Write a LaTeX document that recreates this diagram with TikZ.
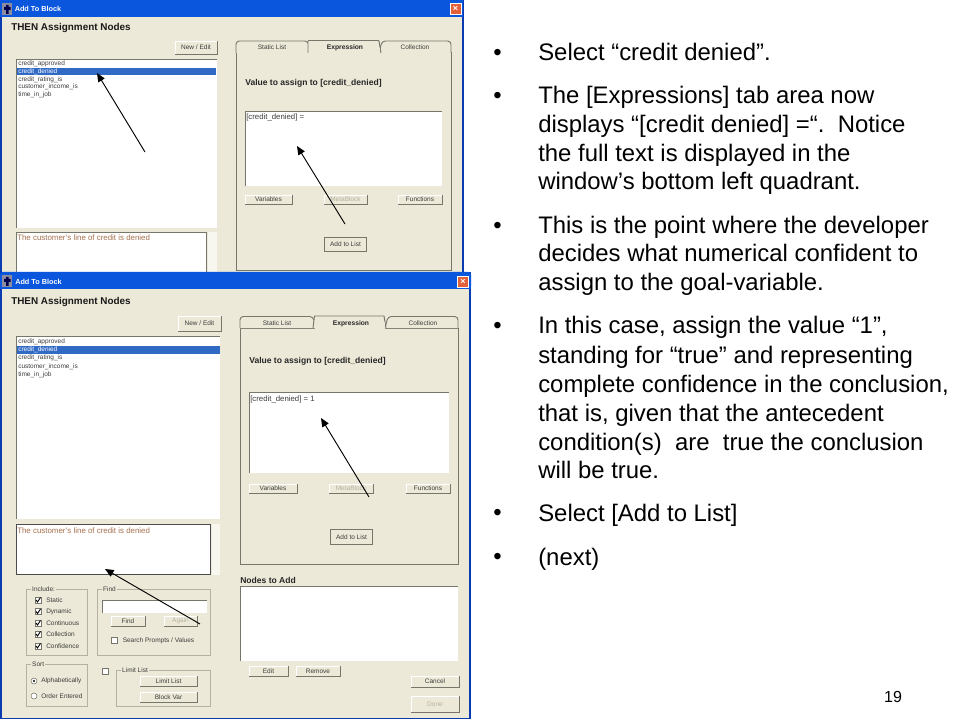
\documentclass[tikz,border=0pt]{standalone}
\usepackage{fontspec}
\setmainfont{Liberation Sans}
\usetikzlibrary{arrows.meta}
\definecolor{xpface}{HTML}{ECE9D8}
\definecolor{xpblue}{HTML}{0A56DC}
\definecolor{xpnavy}{HTML}{0B3BB0}
\definecolor{xpsel}{HTML}{316AC5}
\definecolor{xpdark}{HTML}{77766B}
\definecolor{xpgrey}{HTML}{B5B1A2}
\definecolor{xptxt}{HTML}{3C3C3A}
\definecolor{xpbrown}{HTML}{A5714F}
\definecolor{xpred}{HTML}{E2603A}
\definecolor{xpicon}{HTML}{8C8CA0}
\newcommand{\fpx}[1]{\pgfmathsetmacro\fsz{#1*0.75}\fontsize{\fsz pt}{\fsz pt}\selectfont}
% button: name x1 y1 x2 y2 text style
\newcommand{\btn}[7][xptxt]{%
  \pgfmathsetmacro\bw{(#5-#3)*0.75}\pgfmathsetmacro\bh{(#6-#4)*0.75}%
  \node[btnbox,text=#1,minimum width=\bw pt,minimum height=\bh pt] (#2) at ({(#3+#5)/2},{(#4+#6)/2}) {#7};%
  \draw[white,line width=.5pt] (#2.south west) -- (#2.north west) -- (#2.north east);%
  \draw[xpdark,line width=.6pt] (#2.south west) -- (#2.south east) -- (#2.north east);%
}
\newcommand{\fld}[5]{%
  \pgfmathsetmacro\bw{(#4-#2)*0.75}\pgfmathsetmacro\bh{(#5-#3)*0.75}%
  \node[fldbox,minimum width=\bw pt,minimum height=\bh pt] (#1) at ({(#2+#4)/2},{(#3+#5)/2}) {};%
  \draw[xpdark,line width=.6pt] (#1.south west) -- (#1.north west) -- (#1.north east);%
}
\newcommand{\grp}[6]{%
  \draw[xpgrey,line width=.5pt] (#2,#3) rectangle (#4,#5);%
  \node[grptxt] (#1) at (#2+5,#3) {#6};%
}
\newcommand{\chk}[5][1]{%
  \node[chkbox] (#2) at (#3,#4) {};%
  \ifnum#1=1 \draw[black,line width=.7pt] ([shift={(-2,0)}]#2.center) -- ([shift={(-.5,2)}]#2.center) -- ([shift={(2.5,-2.5)}]#2.center);\fi
  \node[small,anchor=west] (#2t) at (#3+8,#4) {#5};%
}
\newcommand{\bul}[2]{\node[bodytxt] (b#1) at (493,#2) {•};}
\newcommand{\ico}[2]{\fill[xpicon] (#1,#2) rectangle (#1+10,#2+12);
  \fill[black!70!blue] (#1+4,#2+2) rectangle (#1+6.5,#2+11) (#1+2,#2+4) rectangle (#1+8.5,#2+7);}
\tikzset{
  btnbox/.style={draw=none,fill=xpface,inner sep=0pt,outer sep=0pt,font=\fpx{6.5}},
  fldbox/.style={draw=none,fill=white,inner sep=0pt,outer sep=0pt},
  grptxt/.style={fill=xpface,anchor=west,inner sep=.7pt,text=xptxt,font=\fpx{6.5}},
  chkbox/.style={draw=xpdark,fill=white,line width=.5pt,minimum size=4.6pt,inner sep=0pt},
  small/.style={inner sep=0pt,text=xptxt,font=\fpx{6.5}},
  smallk/.style={inner sep=0pt,text=xptxt,anchor=west,font=\fpx{6.5}},
  fldtxt/.style={inner sep=0pt,text=xptxt,anchor=west,font=\fpx{7.8}},
  desc/.style={inner sep=0pt,anchor=west,text=xpbrown,font=\fpx{7.9}},
  head/.style={inner sep=0pt,anchor=west,text=black!85,font=\bfseries\fpx{8.55}},
  wtitle/.style={inner sep=0pt,anchor=west,text=black!90,font=\bfseries\fpx{9.9}},
  bartxt/.style={inner sep=0pt,anchor=west,text=white,font=\bfseries\fpx{7.3}},
  bodytxt/.style={inner sep=0pt,anchor=west,text=black,font=\fpx{23.9}},
  bline/.style={inner sep=0pt,anchor=base west,text=black,font=\fpx{23.9}},
  arr/.style={-{Triangle[length=6.5pt,width=5.5pt]},black,line width=.7pt},
  tab/.style={draw=xpdark,fill=xpface,line width=.7pt,rounded corners=2.5pt},
  tabsel/.style={inner sep=0pt,text=black!85,font=\bfseries\fpx{6.7}},
}
\begin{document}
\begin{tikzpicture}[x=0.75pt,y=-0.75pt]
\useasboundingbox (0,0) rectangle (960,720);
\fill[white] (0,0) rectangle (960,720);

%% ---------- window 1
\fill[xpnavy] (0,0) rectangle (464,273);
\fill[xpblue] (0,0) rectangle (463,17);
\fill[xpface] (2,17) rectangle (462,273);
\ico{2}{3}
\node[bartxt] (t1) at (14.5,9) {Add To Block};
\node[fill=xpred,draw=white,line width=.4pt,minimum size=8pt,inner sep=0pt,text=white,font=\bfseries\fpx{9}] (x1) at (455.5,9) {×};
\node[wtitle] (h1) at (11,27.5) {THEN Assignment Nodes};
\btn{ne1}{175}{41}{217}{54}{New / Edit}
\fld{l1}{16}{59}{217}{228}
\fill[xpsel] (17,68) rectangle (216,75.5);
\node[smallk] (a1) at (18,64.3) {credit\_approved};
\node[smallk,text=white] (a2) at (18,71.8) {credit\_denied};
\node[smallk] (a3) at (18,79.5) {credit\_rating\_is};
\node[smallk] (a4) at (18,87.2) {customer\_income\_is};
\node[smallk] (a5) at (18,94.8) {time\_in\_job};
\node[fldbox,draw=xpdark,line width=.7pt,minimum width=143pt,minimum height=30pt,anchor=north west] (d1) at (16,232.5) {};
\fill[xpface!40!white] (208,232) rectangle (217,272);
\node[desc] (dt1) at (17,238) {The customer's line of credit is denied};
% tabs
\node[draw=xpdark,fill=xpface,line width=.7pt,minimum width=161.5pt,minimum height=163.5pt,inner sep=0pt,anchor=north west] (p1) at (235.5,52.5) {};
\draw[tab] (236,53) -- (236,41) -- (308,41) -- (311,53);
\draw[tab] (379,53) -- (382,41) -- (451,41) -- (451,53);
\draw[tab,sharp corners] (308,53) -- (308,41) -- (309,40.5) -- (378,40.5) -- (379,41) -- (381,53);
\fill[xpface] (309.5,48) rectangle (379.5,54);
\node[small] (s1) at (272,47) {Static List};
\node[tabsel] (e1) at (345,47.5) {Expression};
\node[small] (c1) at (415,47) {Collection};
\node[head] (v1) at (245,83) {Value to assign to [credit\_denied]};
\fld{f1}{245}{111}{442}{186}
\node[fldtxt] (fv1) at (246,117.5) {[credit\_denied] =};
\btn{vb1}{245}{195}{292}{204}{Variables}
\btn[xpgrey]{mb1}{324}{195}{367}{204}{MetaBlock}
\btn{fb1}{398}{195}{442}{204}{Functions}
\node[btnbox,draw=xpdark,line width=.7pt,minimum width=32pt,minimum height=10.5pt,text=xptxt] (al1) at (345.5,244) {Add to List};
% arrows of window 1
\coordinate (ar1s) at (145,152);
\coordinate (ar1e) at (97,73);
\draw[arr] (ar1s) -- (ar1e);
\coordinate (ar2s) at (345,224);
\coordinate (ar2e) at (297,146);
\draw[arr] (ar2s) -- (ar2e);

%% ---------- window 2
\fill[xpnavy] (0,272) rectangle (471,719);
\fill[xpblue,rounded corners=2pt] (0,272) rectangle (471,289);
\fill[xpblue] (0,285) rectangle (471,289);
\fill[xpface] (2,289) rectangle (469,717.5);
\ico{2}{275}
\node[bartxt] (t2) at (15,282) {Add To Block};
\node[fill=xpred,draw=white,line width=.4pt,minimum size=8pt,inner sep=0pt,text=white,font=\bfseries\fpx{9}] (x2) at (463,282) {×};
\node[wtitle] (h2) at (11,302) {THEN Assignment Nodes};
\btn{ne2}{178}{316}{221}{331}{New / Edit}
\fld{l2}{16}{336}{220}{519}
\fill[xpsel] (17,346) rectangle (220,354);
\node[smallk] (g1) at (18,342) {credit\_approved};
\node[smallk,text=white] (g2) at (18,350) {credit\_denied};
\node[smallk] (g3) at (18,358.3) {credit\_rating\_is};
\node[smallk] (g4) at (18,366.5) {customer\_income\_is};
\node[smallk] (g5) at (18,375) {time\_in\_job};
\node[fldbox,draw=black!70,line width=.7pt,minimum width=146pt,minimum height=38pt,anchor=north west] (d2) at (16,524) {};
\fill[xpface!40!white] (212,524) rectangle (220,575);
\node[desc] (dt2) at (17,530.5) {The customer's line of credit is denied};
% include
\grp{ig}{26}{589}{87}{655}{Include:}
\chk{c1a}{38}{600}{Static}
\chk{c2a}{38}{611.5}{Dynamic}
\chk{c3a}{38}{623}{Continuous}
\chk{c4a}{38}{634}{Collection}
\chk{c5a}{38}{646}{Confidence}
% find
\grp{fg}{97}{589}{210}{655}{Find}
\fld{fi}{102}{600}{207}{613}
\btn{fbn}{111}{616}{145}{626}{Find}
\btn[xpgrey]{agn}{164}{616}{197}{626}{Again}
\chk[0]{spv}{114.5}{640.5}{Search Prompts / Values}
% sort
\grp{sg}{26}{664}{87}{706}{Sort}
\node[draw=xpdark,fill=white,circle,line width=.4pt,minimum size=4.5pt,inner sep=0pt] (r1) at (34,681) {};
\fill[black] (r1.center) circle (1.1);
\node[smallk] (r1t) at (41,681) {Alphabetically};
\node[draw=xpdark,fill=white,circle,line width=.4pt,minimum size=4.5pt,inner sep=0pt] (r2) at (34,696) {};
\node[smallk] (r2t) at (41,696) {Order Entered};
% limit
\node[chkbox] (lc) at (105,671) {};
\grp{lg}{116}{670}{210}{706}{Limit List}
\btn{lb}{140}{676}{197}{686}{Limit List}
\btn{bv}{140}{692}{197}{702}{Block Var}
% tabs 2
\node[draw=xpdark,fill=xpface,line width=.7pt,minimum width=163.5pt,minimum height=177pt,inner sep=0pt,anchor=north west] (p2) at (240,328) {};
\draw[tab] (240,328) -- (240,316.5) -- (313,316.5) -- (316,328);
\draw[tab] (385,328) -- (388,316.5) -- (458,316.5) -- (458,328);
\draw[tab,sharp corners] (313,328) -- (314.5,316) -- (384,316) -- (386,328);
\fill[xpface] (315,322) rectangle (385,329);
\node[small] (s2) at (277,323) {Static List};
\node[tabsel] (e2) at (351,323.5) {Expression};
\node[small] (c2) at (423,323) {Collection};
\node[head] (v2) at (249,361.5) {Value to assign to [credit\_denied]};
\fld{f2}{249}{392}{449}{473}
\node[fldtxt] (fv2) at (250,399) {[credit\_denied] = 1};
\btn{vb2}{249}{484}{297}{493}{Variables}
\btn[xpgrey]{mb2}{329}{484}{373}{493}{MetaBlock}
\btn{fb2}{406}{484}{450}{493}{Functions}
\node[btnbox,draw=xpdark,line width=.7pt,minimum width=32pt,minimum height=11.5pt,text=xptxt] (al2) at (351.5,537) {Add to List};
\node[head] (na) at (240,580) {Nodes to Add};
\fld{f3}{240}{586}{458}{661}
\btn{ed}{249}{666}{288}{676}{Edit}
\btn{rm}{296}{666}{340}{676}{Remove}
\btn{cc}{411}{676}{459}{687}{Cancel}
\btn[xpgrey]{dn}{411}{696}{459}{712}{Done}
% arrows of window 2
\coordinate (ar3s) at (200,624);
\coordinate (ar3e) at (105,569);
\draw[arr] (ar3s) -- (ar3e);
\coordinate (ar4s) at (369,497);
\coordinate (ar4e) at (321,418);
\draw[arr] (ar4s) -- (ar4e);

%% ---------- text column
\bul{1}{55}\node[bline] (k1) at (538,61) {Select “credit denied”.};
\bul{2}{98}\node[bline] (k2) at (538,104) {The [Expressions] tab area now};
\node[bline] (k3) at (538,133) {displays “[credit denied] =“.\ \ Notice};
\node[bline] (k4) at (538,162) {the full text is displayed in the};
\node[bline] (k5) at (538,190) {window’s bottom left quadrant.};
\bul{3}{228}\node[bline] (k6) at (538,234) {This is the point where the developer};
\node[bline] (k7) at (538,262) {decides what numerical confident to};
\node[bline] (k8) at (538,291) {assign to the goal-variable.};
\bul{4}{328}\node[bline] (k9) at (538,334) {In this case, assign the value “1”,};
\node[bline] (k10) at (538,363) {standing for “true” and representing};
\node[bline] (k11) at (538,392) {complete confidence in the conclusion,};
\node[bline] (k12) at (538,421) {that is, given that the antecedent};
\node[bline] (k13) at (538,450) {condition(s)\ \ are\ \ true the conclusion};
\node[bline] (k14) at (538,478) {will be true.};
\bul{5}{515}\node[bline] (k15) at (538,521) {Select [Add to List]};
\bul{6}{559}\node[bline] (k16) at (538,565) {(next)};
\node[inner sep=0pt,text=black,font=\fpx{16}] (pg) at (893,697) {19};
\end{tikzpicture}
\end{document}
